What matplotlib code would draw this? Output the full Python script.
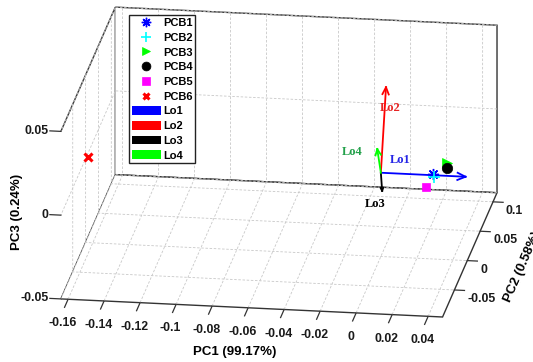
import numpy as np
import matplotlib
matplotlib.use('Agg')
import matplotlib.pyplot as plt
from matplotlib.lines import Line2D
from matplotlib.patches import Patch
from matplotlib.ticker import NullFormatter
from mpl_toolkits.mplot3d import proj3d

plt.rcParams['font.family'] = ['Liberation Sans', 'DejaVu Sans']
plt.rcParams['font.weight'] = 'bold'
plt.rcParams['axes.unicode_minus'] = False

# ---------------- data ----------------
pcb_names = ['PCB1', 'PCB2', 'PCB3', 'PCB4', 'PCB5', 'PCB6']
pcb_pc1 = [0.029, 0.030, 0.037, 0.0365, 0.028, -0.163]
pcb_pc2 = [0.000, -0.003, 0.000, 0.000, -0.020, 0.003]
pcb_pc3 = [0.001, 0.000, 0.0076, 0.0046, 0.000, 0.000]

lo_names = ['Lo1', 'Lo2', 'Lo3', 'Lo4']
lo_pc1 = [0.047, 0.000, 0.005, -0.002]
lo_pc2 = [0.000, 0.020, -0.030, 0.000]
lo_pc3 = [0.000, 0.044, 0.000, 0.014]

x_ticks = [-0.16, -0.14, -0.12, -0.10, -0.08, -0.06, -0.04, -0.02, 0.0, 0.02, 0.04]
x_ticklabels = ['-0.16', '-0.14', '-0.12', '-0.1', '-0.08', '-0.06', '-0.04', '-0.02', '0', '0.02', '0.04']
y_ticks = [-0.05, 0.0, 0.05, 0.10]
y_ticklabels = ['-0.05', '0', '0.05', '0.1']
z_ticks = [-0.05, 0.0, 0.05]
z_ticklabels = ['-0.05', '0', '0.05']

x_label = 'PC1 (99.17%)'
y_label = 'PC2 (0.58%)'
z_label = 'PC3 (0.24%)'

# ---------------- styles / layout ----------------
pcb_styles = [
    dict(marker=(8, 2, 0), color='#0000FF', ms=8, mew=1.0, mfc='#0000FF'),
    dict(marker='+', color='#00FFFF', ms=9, mew=1.2, mfc='#00FFFF'),
    dict(marker='>', color='#00FF00', ms=7, mew=0.5, mfc='#00FF00'),
    dict(marker='o', color='#000000', ms=7.5, mew=0.5, mfc='#000000'),
    dict(marker='s', color='#FF00FF', ms=6, mew=0.5, mfc='#FF00FF'),
    dict(marker='x', color='#FF0000', ms=5.5, mew=2.2, mfc='#FF0000'),
]
lo_colors = ['#0000FF', '#FF0000', '#000000', '#00FF00']
lo_text_colors = ['#2424E6', '#E62424', '#000000', '#22A04A']
head_px = [8, 7, 3, 6]          # arrow head length in pixels
lo_label_pos = [(0.0109, 0.0, 0.0080), (0.0053, 0.0, 0.0389),
                (-0.0031, 0.0, -0.0190), (-0.0159, 0.0, 0.0115)]

xlim = (-0.164, 0.048)
ylim = (-0.096, 0.1155)
zlim = (-0.05, 0.05)
ELEV, AZIM = 19.2, -81.8
BOX = (1, 0.99, 0.46)
edge = '#333333'

W, H = 533, 362
fig = plt.figure(figsize=(W / 100, H / 100), dpi=100)
ax = fig.add_axes([0, 0, 1, 1], projection='3d')
ax.computed_zorder = False
ax.set_proj_type('ortho')
ax.view_init(elev=ELEV, azim=AZIM)
ax.set_box_aspect(BOX)

ax.set_xlim(*xlim)
ax.set_ylim(*ylim)
ax.set_zlim(*zlim)
ax.set_xticks(x_ticks)
ax.set_yticks(y_ticks)
ax.set_zticks(z_ticks)

for axis in (ax.xaxis, ax.yaxis, ax.zaxis):
    axis.set_major_formatter(NullFormatter())
    axis.set_pane_color((1, 1, 1, 1))
    axis.pane.set_edgecolor(edge)
    axis.pane.set_linewidth(1.0)
    axis.line.set_visible(False)
    axis._axinfo['grid'].update(color='#c8c8c8', linewidth=0.6, linestyle=(0, (3, 2)))
    axis._axinfo['tick'].update(inward_factor=0.0, outward_factor=0.0)
    axis.set_tick_params(labelbottom=False, labeltop=False)
    axis.label.set_visible(False)
    axis.offsetText.set_visible(False)
ax.grid(True)

M = ax.get_proj()


def text_at(x, y, z, s, **kw):
    """Place a 2D text at the projection of a 3D data point."""
    px, py, _ = proj3d.proj_transform(np.array([x]), np.array([y]), np.array([z]), M)
    return ax.text2D(float(px[0]), float(py[0]), s, transform=ax.transData, **kw)


# ---- manual ticks and tick labels (MATLAB placement) ----
tk = dict(color=edge, linewidth=0.9, zorder=2)
lab = dict(fontsize=8.8, fontweight='bold', color='#1a1a1a', zorder=2)
for v, s in zip(x_ticks, x_ticklabels):
    ax.plot([v, v], [ylim[0], ylim[0] - 0.0137], [zlim[0], zlim[0]], **tk)
    text_at(v, ylim[0] - 0.0216, zlim[0] - 0.0068, s, ha='center', va='center', **lab)
for v, s in zip(y_ticks, y_ticklabels):
    ax.plot([xlim[1], xlim[1] + 0.0056], [v, v], [zlim[0], zlim[0]], **tk)
    text_at(xlim[1] + 0.0072, v, zlim[0] - 0.0050, s, ha='left', va='center', **lab)
for v, s in zip(z_ticks, z_ticklabels):
    ax.plot([xlim[0], xlim[0] - 0.0061], [ylim[0], ylim[0]], [v, v], **tk)
    text_at(xlim[0] - 0.0070, ylim[0], v, s, ha='right', va='center', **lab)

# ---- loadings (arrows with screen-facing heads) ----
rng = np.array([xlim[1] - xlim[0], ylim[1] - ylim[0], zlim[1] - zlim[0]])
scale = np.array(BOX) / rng
e, a = np.radians(ELEV), np.radians(AZIM)
view = np.array([np.cos(e) * np.cos(a), np.cos(e) * np.sin(a), np.sin(e)])
px_per_unit = 385.0
for i in range(len(lo_names)):
    vec = np.array([lo_pc1[i], lo_pc2[i], lo_pc3[i]])
    ax.plot([0, vec[0]], [0, vec[1]], [0, vec[2]], color=lo_colors[i], linewidth=1.3, zorder=3)
    dn = vec * scale
    dp = dn - np.dot(dn, view) * view
    dp /= np.linalg.norm(dp)
    perp = np.cross(dp, view)
    perp /= np.linalg.norm(perp)
    h = head_px[i] / px_per_unit
    w = 0.45 * h
    for sgn in (1, -1):
        wing_n = vec * scale - h * dp + sgn * w * perp
        wing = wing_n / scale
        ax.plot([vec[0], wing[0]], [vec[1], wing[1]], [vec[2], wing[2]],
                color=lo_colors[i], linewidth=1.3, zorder=3)
    px, py, pz = lo_label_pos[i]
    text_at(px, py, pz, lo_names[i], color=lo_text_colors[i], fontsize=9,
            family=['Liberation Serif', 'DejaVu Serif'], fontweight='bold',
            ha='center', va='center', zorder=6)

# ---- scores ----
for i in range(len(pcb_names)):
    st = pcb_styles[i]
    ax.plot([pcb_pc1[i]], [pcb_pc2[i]], [pcb_pc3[i]], linestyle='none',
            marker=st['marker'], color=st['color'], markersize=st['ms'],
            markeredgewidth=st['mew'], markerfacecolor=st['mfc'], zorder=5)

# ---------------- fit box to target placement ----------------
fig.canvas.draw()
cx = [xlim[0], xlim[0], xlim[0], xlim[0], xlim[1], xlim[1], xlim[1]]
cy = [ylim[0], ylim[0], ylim[1], ylim[1], ylim[1], ylim[1], ylim[0]]
cz = [zlim[0], zlim[1], zlim[1], zlim[0], zlim[1], zlim[0], zlim[0]]
target = np.array([(61, 299), (61, 132), (116, 6), (115, 175),
                   (497, 25), (497, 193), (442, 317)], dtype=float)
target[:, 1] = H - target[:, 1]
M2 = ax.get_proj()
xs, ys, _ = proj3d.proj_transform(np.array(cx), np.array(cy), np.array(cz), M2)
D = ax.transData.transform(np.column_stack([xs, ys]))
Dm, Tm = D.mean(0), target.mean(0)
s = np.sum((D - Dm) * (target - Tm)) / np.sum((D - Dm) ** 2)
t = Tm - s * Dm
pos = ax.get_position()
o = np.array([pos.x0 * W, pos.y0 * H])
L = pos.width * W
o2 = s * o + t
L2 = s * L
ax.set_position([o2[0] / W, o2[1] / H, L2 / W, L2 / H])

# axis labels
fig.text(235 / W, 1 - 352 / H, x_label, ha='center', va='center', fontsize=9.5)
fig.text(17 / W, 1 - 212 / H, z_label, ha='center', va='center', rotation=90, fontsize=9.5)
fig.text(523 / W, 1 - 267 / H, y_label, ha='center', va='center', rotation=66.5,
         rotation_mode='anchor', fontsize=9.5)

# legend
handles = []
for i in range(len(pcb_names)):
    st = pcb_styles[i]
    handles.append(Line2D([], [], linestyle='none', marker=st['marker'], color=st['color'],
                          markersize=st['ms'] * 0.85, markeredgewidth=st['mew'],
                          markerfacecolor=st['mfc']))
for i in range(len(lo_names)):
    handles.append(Patch(facecolor=lo_colors[i], edgecolor='none'))
fig.legend(handles, pcb_names + lo_names, loc='upper left',
           bbox_to_anchor=(129 / W, 1 - 15 / H), bbox_transform=fig.transFigure,
           fontsize=8, frameon=True, fancybox=False, edgecolor='#222222',
           framealpha=1, borderpad=0.25, borderaxespad=0, labelspacing=0.4,
           handlelength=2.6, handleheight=0.85, handletextpad=0.2)

fig.savefig('out.png', dpi=100)
